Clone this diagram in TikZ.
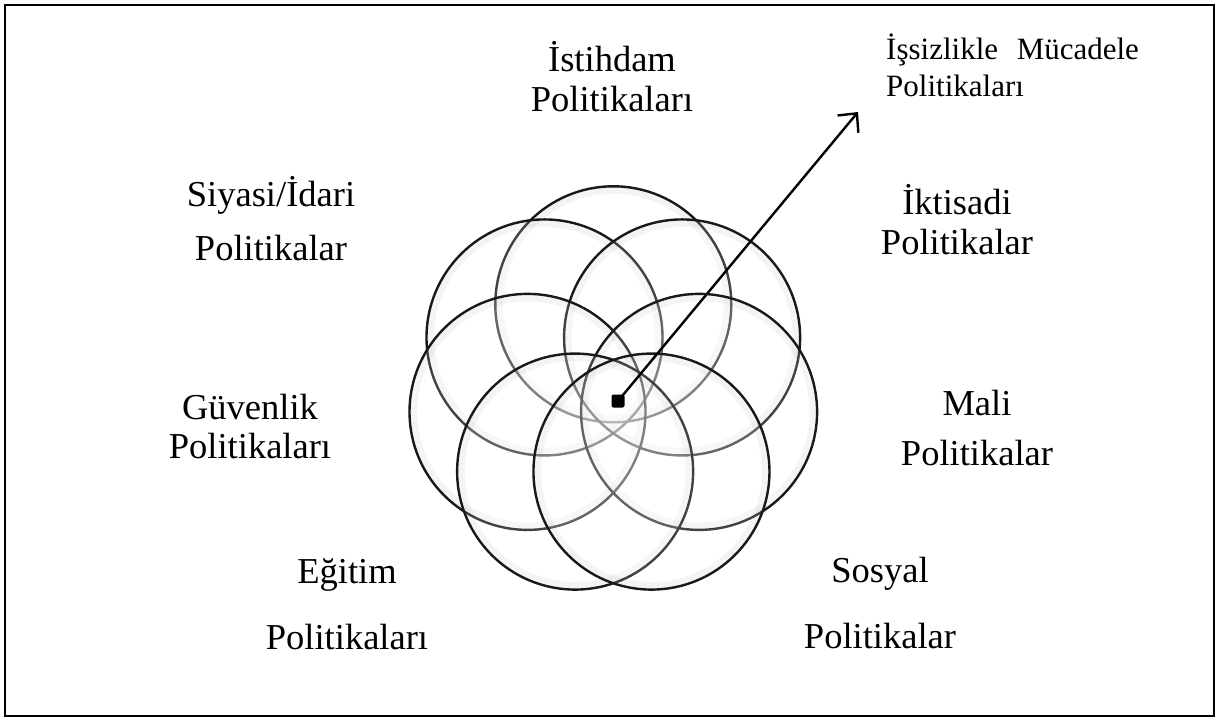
\documentclass[tikz,border=0pt]{standalone}
\usepackage{fontspec}
\setmainfont{Liberation Serif}
\usetikzlibrary{arrows.meta}
\begin{document}
\begin{tikzpicture}[x=1pt,y=-1pt,
  lbl/.style={align=center, inner sep=0pt},
  ring/.style={draw=black!90, line width=2.4pt, fill=white, fill opacity=0.18},
  glow/.style={draw=black, line width=7pt, draw opacity=0.05},
  dotbox/.style={fill=black, minimum size=13pt, inner sep=0pt, rounded corners=2pt},
  link/.style={line width=2.4pt, -{Straight Barb[length=14pt,width=27pt,line width=2.4pt]}},
]
\useasboundingbox (0,0) rectangle (1218,720);
\draw[line width=2pt] (5,5) rectangle (1214,716);

\foreach \a in {90, 141.43, 38.57, 192.86, -12.86, 244.29, 295.71} {
  \draw[glow] ({613.3+88*cos(\a)},{392.3-88*sin(\a)}) circle[radius=114pt];
  \draw[ring] ({613.3+88*cos(\a)},{392.3-88*sin(\a)}) circle[radius=118pt];
}

\node[dotbox] (dot) at (618,401) {};
\coordinate (tip) at (858,112);
\draw[link] (dot.center) -- (tip);

\node[lbl, font=\fontsize{36.5}{40}\selectfont] (emp) at (612,77) {İstihdam\\Politikaları};
\node[lbl, font=\fontsize{36.5}{54}\selectfont] (siy) at (271,219) {Siyasi/İdari\\Politikalar};
\node[lbl, font=\fontsize{36.5}{40}\selectfont] (ikt) at (957,220) {İktisadi\\Politikalar};
\node[lbl, font=\fontsize{36.5}{39}\selectfont] (guv) at (250,427) {Güvenlik\\Politikaları};
\node[lbl, font=\fontsize{36.5}{50}\selectfont] (mali) at (977,428) {Mali\\Politikalar};
\node[lbl, font=\fontsize{36.5}{66}\selectfont] (egt) at (347,604) {Eğitim\\Politikaları};
\node[lbl, font=\fontsize{36.5}{66}\selectfont] (sos) at (880,603) {Sosyal\\Politikalar};
\node[lbl, align=left, anchor=west, font=\fontsize{31}{37}\selectfont] (iss) at (886,65) {İşsizlikle\hspace{0.6em}Mücadele\\Politikaları};
\end{tikzpicture}
\end{document}
